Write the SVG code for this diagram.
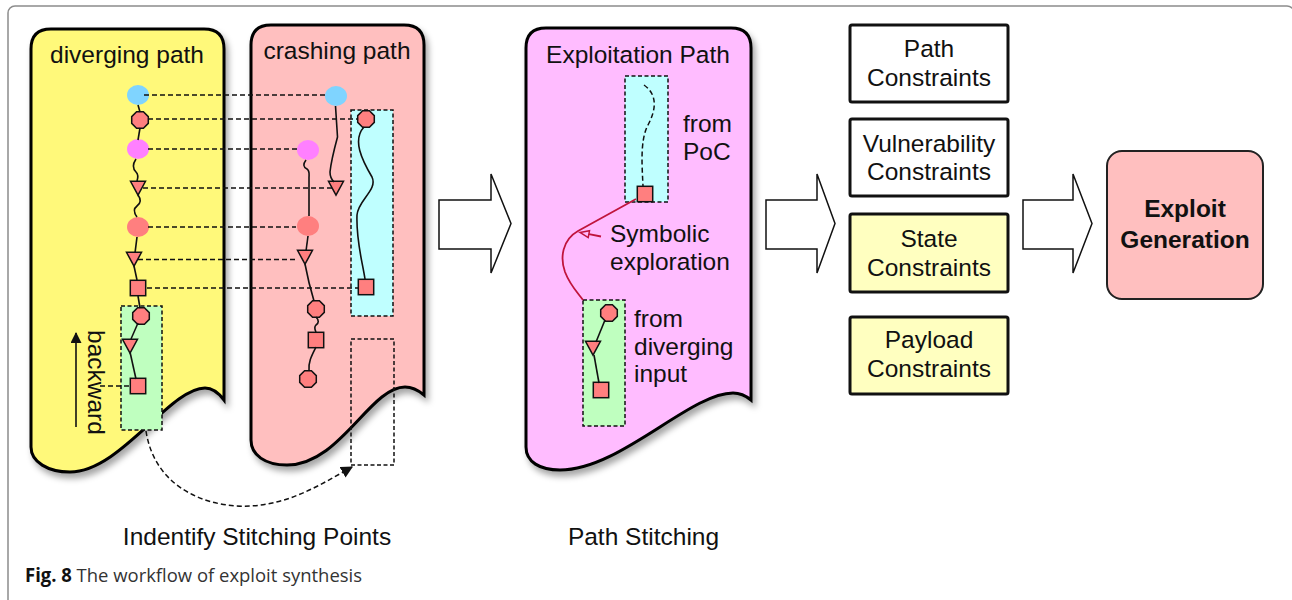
<svg xmlns="http://www.w3.org/2000/svg" xmlns:xlink="http://www.w3.org/1999/xlink" width="1292" height="600" viewBox="0 0 1292 600">
  <style>
    .t { font-family: "Liberation Sans", Arial, Helvetica, sans-serif; font-size: 24.5px; fill: #111; }
    .mid { text-anchor: middle; }
    .panel { stroke: #000; stroke-width: 3; }
    .box { stroke: #111; stroke-width: 3; }
    .node { fill: #ff7f7f; stroke: #111; stroke-width: 1.5; }
    .wire { fill: none; stroke: #111; stroke-width: 1.6; }
    .dash { fill: none; stroke: #111; stroke-width: 1.5; stroke-dasharray: 5 3; }
    .frame { fill: none; stroke: #111; stroke-width: 1.5; stroke-dasharray: 4 2.5; }
    .hollow { fill: #fff; stroke: #111; stroke-width: 1.5; stroke-linejoin: miter; }
    .sym { fill: none; stroke: #c0143c; stroke-width: 1.8; }
  </style>
  <defs>
    <filter id="shadow" x="-10%" y="-10%" width="130%" height="130%">
      <feDropShadow dx="3" dy="5" stdDeviation="3" flood-color="#000" flood-opacity="0.35"/>
    </filter>
    <polygon id="oct" points="-3.4,-8.3 3.4,-8.3 8.3,-3.4 8.3,3.4 3.4,8.3 -3.4,8.3 -8.3,3.4 -8.3,-3.4"/>
    <polygon id="tri" points="-7.5,-6.7 7.5,-6.7 0,7.2"/>
    <rect id="sq" x="-7.7" y="-7.7" width="15.4" height="15.4"/>
    <marker id="head" viewBox="0 0 10 10" refX="9" refY="5" markerWidth="12" markerHeight="12" markerUnits="userSpaceOnUse" orient="auto">
      <path d="M0,0 L10,5 L0,10 Z" fill="#111"/>
    </marker>
    <marker id="uphead" viewBox="0 0 10 10" refX="9" refY="5" markerWidth="13" markerHeight="11" markerUnits="userSpaceOnUse" orient="auto">
      <path d="M0,0 L10,5 L0,10 Z" fill="#111"/>
    </marker>
  </defs>

  <rect width="1292" height="600" fill="#fff"/>
  <!-- figure frame -->
  <rect x="8" y="6" width="1286" height="640" rx="7" fill="none" stroke="#8c8c8c" stroke-width="1.5"/>

  <!-- diverging path panel -->
  <g id="diverging-path">
    <path class="panel" filter="url(#shadow)" fill="#fff97a" d="M51,29 H204 Q224,29 224,49 V400 C218,392 212,388 205,388 C170,388 120,472 70,472 C48,472 31,462 31,447 V49 Q31,29 51,29 Z"/>
    <text class="t mid" x="127" y="63">diverging path</text>
    <rect x="121" y="306" width="41" height="124" fill="#bfffbf"/>
    <rect class="frame" x="121" y="306" width="41" height="124"/>
    <ellipse cx="138" cy="95" rx="11" ry="10" fill="#7fd4ff"/>
    <use href="#oct" class="node" x="140" y="120"/>
    <ellipse cx="138" cy="149" rx="11" ry="10" fill="#ff80ff"/>
    <use href="#tri" class="node" x="138" y="188"/>
    <ellipse cx="138" cy="227" rx="11" ry="10" fill="#ff7f7f"/>
    <use href="#tri" class="node" x="134" y="259"/>
    <use href="#sq" class="node" x="138" y="288"/>
    <use href="#oct" class="node" x="141" y="316"/>
    <use href="#tri" class="node" x="130" y="346"/>
    <use href="#sq" class="node" x="138" y="386"/>
    <line x1="76" y1="427" x2="76" y2="333" stroke="#111" stroke-width="1.6" marker-end="url(#uphead)"/>
    <text class="t" transform="translate(88,330) rotate(90)">backward</text>
  </g>

  <!-- crashing path panel -->
  <g id="crashing-path">
    <path class="panel" filter="url(#shadow)" fill="#ffbfbf" d="M271,25 H404 Q424,25 424,45 V395 C418,390 412,387 405,387 C370,387 340,465 287,465 C265,465 251,455 251,440 V45 Q251,25 271,25 Z"/>
    <text class="t mid" x="337" y="59">crashing path</text>
    <rect x="351" y="110" width="42" height="206" fill="#bfffff"/>
    <rect class="frame" x="351" y="110" width="42" height="206"/>
    <rect class="frame" x="351" y="339" width="43" height="126"/>
    <ellipse cx="336" cy="96" rx="11" ry="10" fill="#7fd4ff"/>
    <ellipse cx="308" cy="150" rx="11" ry="10" fill="#ff80ff"/>
    <use href="#tri" class="node" x="336" y="188"/>
    <ellipse cx="308" cy="226" rx="11" ry="10" fill="#ff7f7f"/>
    <use href="#tri" class="node" x="305" y="257"/>
    <use href="#oct" class="node" x="316" y="309"/>
    <use href="#sq" class="node" x="316" y="340"/>
    <use href="#oct" class="node" x="308" y="379"/>
    <use href="#oct" class="node" x="366" y="119"/>
    <use href="#sq" class="node" x="366" y="287"/>
  </g>

  <!-- exploitation path panel -->
  <g id="exploitation-path">
    <path class="panel" filter="url(#shadow)" fill="#ffbcff" d="M546,28 H731 Q751,28 751,48 V400 C745,395 740,393 733,393 C690,393 620,470 560,470 C540,470 526,462 526,447 V48 Q526,28 546,28 Z"/>
    <text class="t mid" x="638" y="63">Exploitation Path</text>
    <rect x="625" y="76" width="43" height="126" fill="#bfffff"/>
    <rect class="frame" x="625" y="76" width="43" height="126"/>
    <path class="dash" d="M644,85 C658,95 656,110 648,125 C640,140 642,165 643,186"/>
    <use href="#sq" class="node" x="645" y="194"/>
    <text class="t" x="683" y="132">from</text>
    <text class="t" x="683" y="160">PoC</text>
    <rect x="583" y="300" width="42" height="126" fill="#bfffbf"/>
    <rect class="frame" x="583" y="300" width="42" height="126"/>
    <use href="#oct" class="node" x="609" y="313"/>
    <use href="#tri" class="node" x="593" y="348"/>
    <use href="#sq" class="node" x="601" y="390"/>
    <text class="t" x="634" y="327">from</text>
    <text class="t" x="634" y="355">diverging</text>
    <text class="t" x="634" y="382">input</text>
    <text class="t" x="610" y="242">Symbolic</text>
    <text class="t" x="610" y="270">exploration</text>
  </g>

  <!-- hollow block arrows -->
  <g id="arrow-stitch">
    <polygon class="hollow" points="439,200 491,200 491,174 511,223.5 491,273 491,249 439,249"/>
  </g>
  <g id="arrow-constraints">
    <polygon class="hollow" points="766,200 817,200 817,174 835,223.5 817,273 817,249 766,249"/>
  </g>
  <g id="arrow-generate">
    <polygon class="hollow" points="1023,200 1073,200 1073,174 1092,223.5 1073,273 1073,249 1023,249"/>
  </g>

  <!-- constraint boxes -->
  <g id="path-constraints">
    <rect class="box" x="850" y="25" width="158" height="77" rx="2" fill="#fff"/>
    <text class="t mid" x="929" y="57">Path</text>
    <text class="t mid" x="929" y="86">Constraints</text>
  </g>
  <g id="vulnerability-constraints">
    <rect class="box" x="850" y="119" width="158" height="77" rx="2" fill="#fff"/>
    <text class="t mid" x="929" y="152">Vulnerability</text>
    <text class="t mid" x="929" y="180">Constraints</text>
  </g>
  <g id="state-constraints">
    <rect class="box" x="850" y="214" width="158" height="78" rx="2" fill="#ffffc0"/>
    <text class="t mid" x="929" y="247">State</text>
    <text class="t mid" x="929" y="276">Constraints</text>
  </g>
  <g id="payload-constraints">
    <rect class="box" x="850" y="317" width="158" height="77" rx="2" fill="#ffffc0"/>
    <text class="t mid" x="929" y="348">Payload</text>
    <text class="t mid" x="929" y="377">Constraints</text>
  </g>

  <!-- exploit generation -->
  <g id="exploit-generation">
    <rect x="1107" y="151" width="156" height="148" rx="15" fill="#ffbfbf" stroke="#222" stroke-width="2"/>
    <text class="t mid" x="1185" y="217" font-weight="bold" font-size="23.5">Exploit</text>
    <text class="t mid" x="1185" y="248" font-weight="bold" font-size="23.5">Generation</text>
  </g>

  <!-- connectors -->
  <g id="connectors">
    <!-- correspondence between the two paths -->
    <path class="dash" d="M144,95 H326"/>
    <path class="dash" d="M148,119 H358"/>
    <path class="dash" d="M148,149 H297"/>
    <path class="dash" d="M143,188 H332"/>
    <path class="dash" d="M148,227 H296"/>
    <path class="dash" d="M138,259.5 H298"/>
    <path class="dash" d="M147,288 H358"/>
    <path class="dash" d="M100,386 H130"/>

    <!-- diverging path trace -->
    <path class="wire" d="M138,105 L140,112"/>
    <path class="wire" d="M140,128 L138,140"/>
    <path class="wire" d="M136,159 c-4,6 -3,10 0,13 c3,3 2,6 1,9"/>
    <path class="wire" d="M138,195 c3,4 3,8 -1,11 c-4,3 -3,7 0,11"/>
    <path class="wire" d="M137,237 L135,253"/>
    <path class="wire" d="M134,266 L137,280"/>
    <path class="wire" d="M138,296 L140,308"/>
    <path class="wire" d="M138,323 L131,339"/>
    <path class="wire" d="M130,352 L136,379"/>

    <!-- crashing path trace -->
    <path class="wire" d="M335.5,106 L337.5,137 C334,150 331,162 330,172 C330,177 332,180 334,182"/>
    <path class="wire" d="M306,160 c-3,4 -3,7 1,9 c3,2 2,5 2,9 L309,216"/>
    <path class="wire" d="M308,236 L306,251"/>
    <path class="wire" d="M305,264 C308,280 311,291 314,301"/>
    <path class="wire" d="M316,317 c3,3 3,6 0,8 c-2,2 -1,5 0,7"/>
    <path class="wire" d="M316,347 C312,355 308,362 309,371"/>
    <path class="wire" d="M364,127 C352,140 362,160 372,177 C378,190 358,200 357,215 C356,240 362,260 365,279"/>

    <!-- relocation of the diverging segment -->
    <path class="dash" d="M146,431 C155,490 210,508 250,506 C290,504 320,485 352,467" marker-end="url(#head)"/>

    <!-- exploitation path trace -->
    <path class="wire" d="M605,320 L596,342"/>
    <path class="wire" d="M594,355 L599,383"/>
    <path class="sym" d="M636,199 L578,231 C562,240 560,258 565,272 C570,285 577,292 583,300"/>
    <path class="sym" d="M601,236.5 L589,234.2"/>
    <polygon points="580,232.5 589.5,230.8 588.2,237.6" fill="none" stroke="#c0143c" stroke-width="1.5"/>
  </g>

  <!-- stage labels -->
  <text class="t mid" x="257" y="545">Indentify Stitching Points</text>
  <text class="t mid" x="643.5" y="545">Path Stitching</text>

  <!-- caption -->
  <text x="25" y="582" font-family="'Open Sans', 'Noto Sans', sans-serif" font-size="19" fill="#333" textLength="337" lengthAdjust="spacingAndGlyphs"><tspan font-weight="bold" fill="#111">Fig. 8</tspan> The workflow of exploit synthesis</text>
</svg>
